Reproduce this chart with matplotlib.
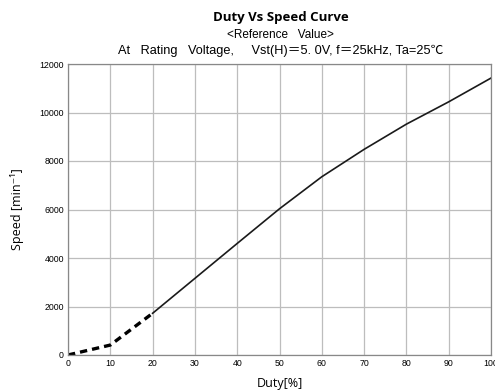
import matplotlib
matplotlib.use("Agg")
import matplotlib.pyplot as plt

# --- data ---
duty_dashed = [0, 10, 20]
speed_dashed = [0, 410, 1720]

duty_solid = [20, 30, 40, 50, 60, 70, 80, 90, 100]
speed_solid = [1720, 3160, 4600, 6030, 7350, 8480, 9520, 10440, 11420]

x_ticks = [0, 10, 20, 30, 40, 50, 60, 70, 80, 90, 100]
y_ticks = [0, 2000, 4000, 6000, 8000, 10000, 12000]

title = "Duty Vs Speed Curve"
subtitle1 = "<Reference   Value>"
subtitle2 = "At   Rating   Voltage,     Vst(H)\uff1d5. 0V, f\uff1d25kHz, Ta=25\u2103"

text_fonts = ["Liberation Sans", "Noto Sans CJK JP", "DejaVu Sans"]
label_fonts = ["Open Sans", "DejaVu Sans"]

fig = plt.figure(figsize=(4.95, 3.91), dpi=100)
ax = fig.add_axes([68 / 495, 1 - 355 / 391, (491 - 68) / 495, (355 - 64) / 391])

ax.plot(duty_dashed, speed_dashed, color="black", linewidth=2.4,
        linestyle=(0, (2.2, 1.5)))
ax.plot(duty_solid, speed_solid, color="#1a1a1a", linewidth=1.2)

ax.set_xlim(0, 100)
ax.set_ylim(0, 12000)
ax.set_xticks(x_ticks)
ax.set_yticks(y_ticks)
ax.tick_params(axis="both", labelsize=6.3, length=0, pad=3)
for lbl in ax.get_xticklabels() + ax.get_yticklabels():
    lbl.set_family(text_fonts)

ax.grid(True, color="#bdbdbd", linewidth=0.9)
ax.set_axisbelow(True)
for sp in ax.spines.values():
    sp.set_color("#888888")
    sp.set_linewidth(0.9)

ax.set_xlabel("Duty[%]", fontsize=9, family=label_fonts, labelpad=6)
ax.set_ylabel("Speed [min\u207b\u00b9]", fontsize=9, family=label_fonts, labelpad=11)

fig.text(0.567, 1 - 18 / 391, title, ha="center", va="center",
         fontsize=9.5, fontweight="bold", family=label_fonts)
fig.text(0.567, 1 - 35 / 391, subtitle1, ha="center", va="center",
         fontsize=8.5, family=text_fonts)
fig.text(0.567, 1 - 51 / 391, subtitle2, ha="center", va="center",
         fontsize=9.2, family=text_fonts)

fig.savefig("out.png", dpi=100)
